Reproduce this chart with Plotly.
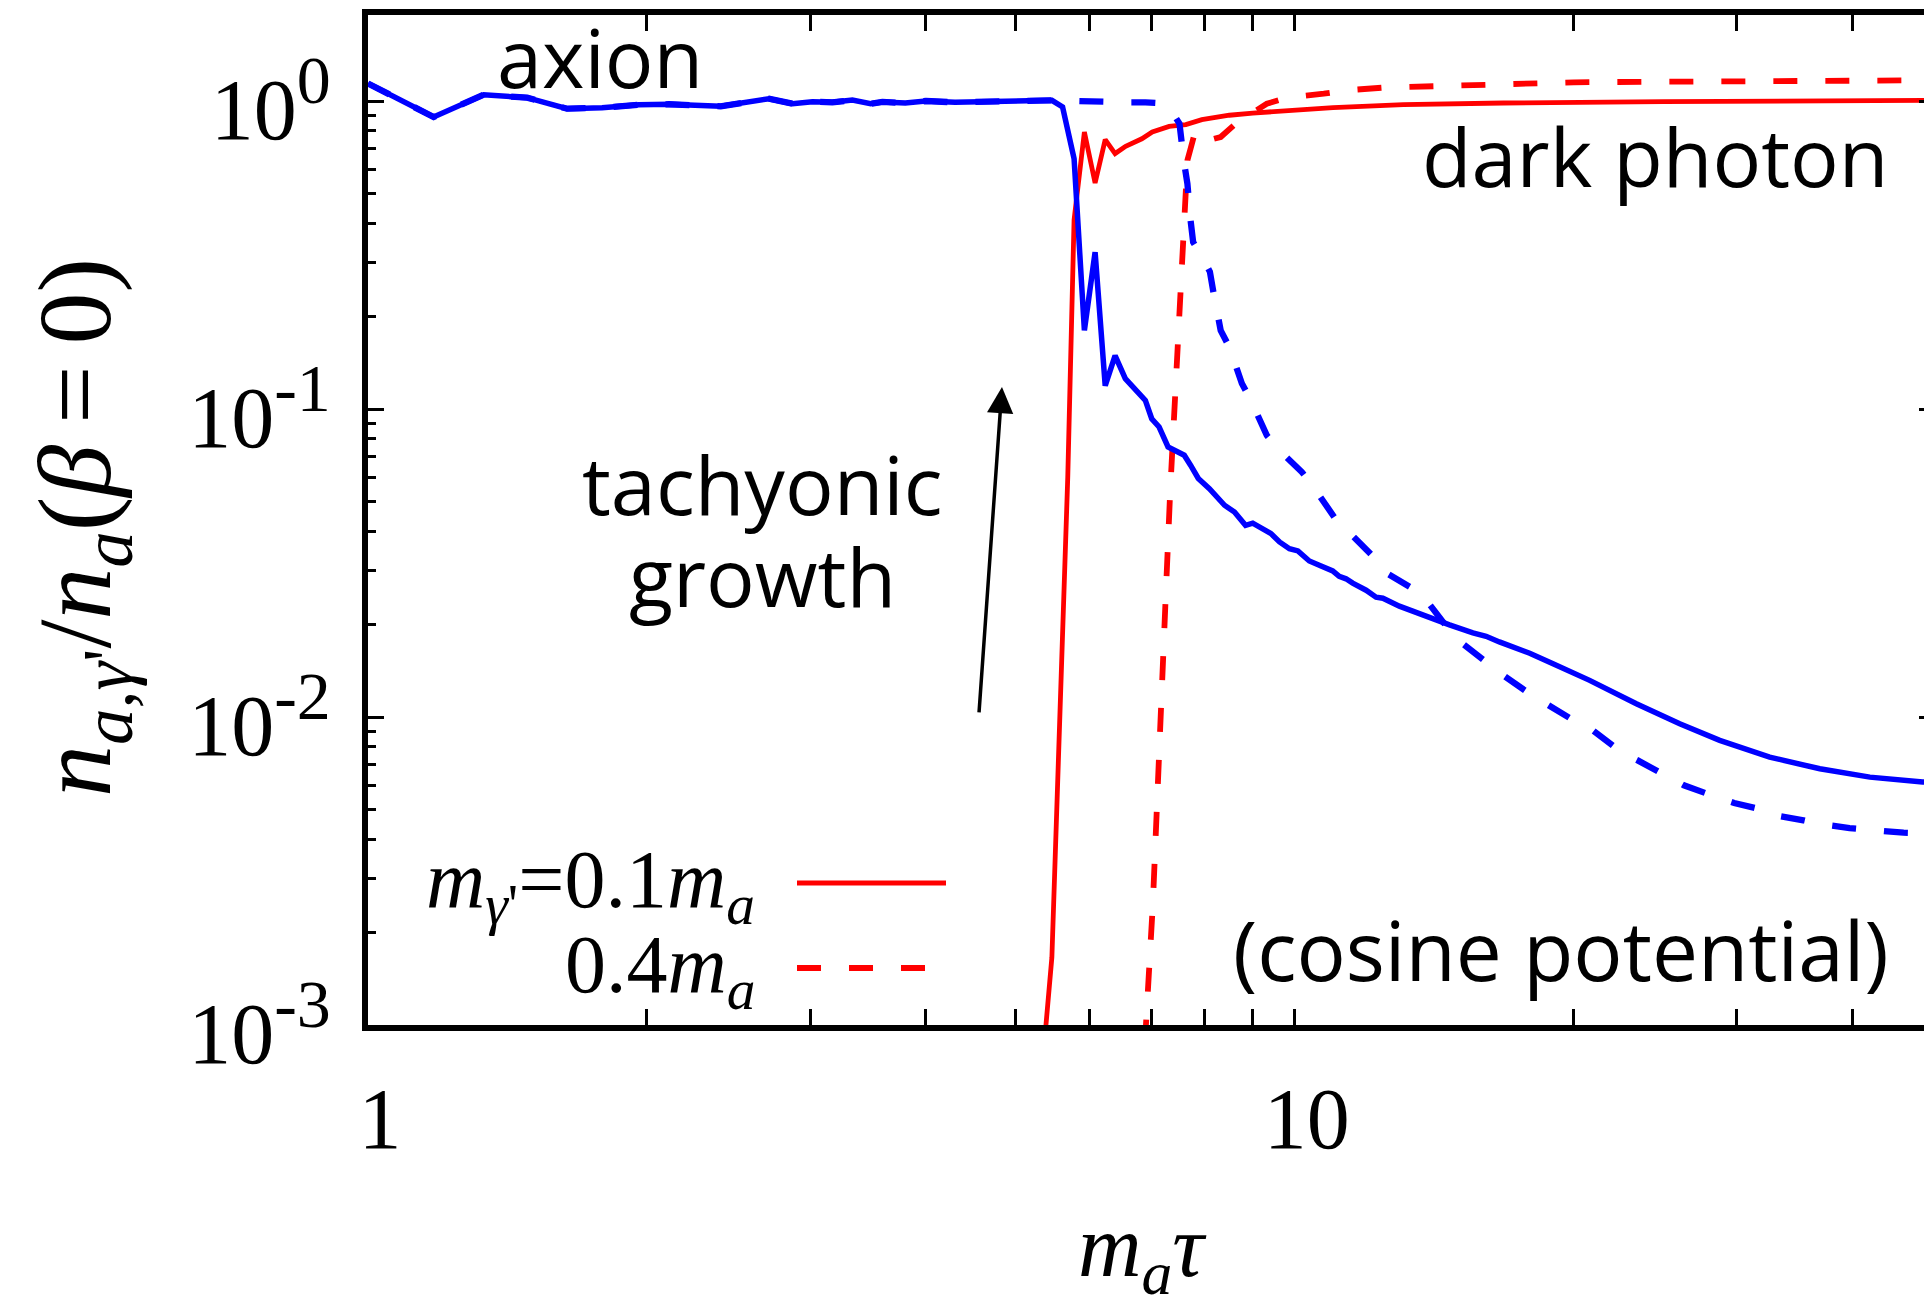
import math
import plotly.graph_objects as go

# ---------------------------------------------------------------------------
# Data: particle number ratio n / n_a(beta=0) versus m_a * tau
# ---------------------------------------------------------------------------

# axion, m_gamma' = 0.1 m_a (blue solid)
axion_01_x = [1.0, 1.177, 1.333, 1.485, 1.64, 1.789, 1.96, 2.112, 2.402, 2.708,
              2.871, 3.017, 3.17, 3.332, 3.487, 3.59, 3.8, 4.0, 4.3, 4.6, 4.9,
              5.2, 5.47, 5.617, 5.78, 5.93, 6.09, 6.245, 6.40, 6.565, 6.74,
              6.90, 7.01, 7.14, 7.30, 7.43, 7.60, 7.72, 7.87, 8.09, 8.40, 8.61,
              8.85, 9.01, 9.23, 9.43, 9.63, 9.87, 10.08, 10.37, 10.63, 10.99,
              11.17, 11.36, 11.55, 11.94, 12.24, 12.45, 12.97, 13.86, 14.69,
              15.57, 16.09, 16.63, 17.34, 17.93, 19.0, 20.81, 23.37, 26.03,
              28.75, 32.55, 36.87, 41.75, 47.6, 50.0]
axion_01_y = [1.14, 0.887, 1.048, 1.025, 0.944, 0.951, 0.973, 0.976, 0.961, 1.017,
              0.98, 0.995, 0.99, 1.007, 0.98, 0.993, 0.985, 1.0, 0.99, 0.995, 0.99,
              0.995, 1.005, 0.956, 0.65, 0.18, 0.323, 0.119, 0.149, 0.1255, 0.115,
              0.1067, 0.093, 0.0874, 0.0753, 0.0734, 0.0708, 0.0657, 0.0595, 0.0551,
              0.0487, 0.0463, 0.0419, 0.0426, 0.0409, 0.0394, 0.037, 0.0352, 0.0346,
              0.0321, 0.0311, 0.0298, 0.0286, 0.0281, 0.0272, 0.0258, 0.0245, 0.0243,
              0.0229, 0.0212, 0.0199, 0.01875, 0.01828, 0.01753, 0.0168, 0.0161,
              0.0149, 0.01315, 0.01104, 0.00951, 0.0084, 0.00741, 0.00679, 0.00638,
              0.00615, 0.0061]

# axion, m_gamma' = 0.4 m_a (blue dashed)
axion_04_x = [1.0, 1.177, 1.333, 1.485, 1.64, 1.789, 1.96, 2.112, 2.402, 2.708,
              2.871, 3.017, 3.17, 3.332, 3.487, 3.59, 3.8, 4.0, 4.3, 4.6, 4.9,
              5.2, 5.47, 5.8, 6.2, 6.6, 6.9, 7.1, 7.32, 7.51, 7.60, 7.66, 7.72,
              7.77, 7.95, 8.10, 8.17, 8.32, 8.50, 8.77, 8.97, 9.33, 9.63, 10.18,
              10.45, 11.03, 11.41, 12.12, 12.45, 13.35, 13.86, 14.69, 15.18, 16.23,
              16.69, 17.93, 18.68, 20.12, 20.97, 22.5, 23.45, 25.37, 26.3, 28.5,
              29.8, 31.6, 32.6, 35.4, 36.87, 39.7, 41.75, 45.4, 47.9, 50.0]
axion_04_y = [1.14, 0.887, 1.048, 1.025, 0.944, 0.951, 0.973, 0.976, 0.961, 1.017,
              0.98, 0.995, 0.99, 1.007, 0.98, 0.993, 0.985, 1.0, 0.99, 0.995, 0.99,
              0.995, 1.005, 1.0, 0.99, 0.99, 0.99, 0.985, 0.956, 0.844, 0.626, 0.539,
              0.41, 0.348, 0.31, 0.279, 0.24, 0.18, 0.159, 0.121, 0.1067, 0.0821,
              0.0734, 0.0624, 0.0565, 0.0446, 0.0402, 0.0335, 0.0298, 0.0263, 0.024,
              0.0191, 0.0173, 0.01472, 0.01383, 0.0119, 0.01104, 0.00964, 0.00906,
              0.0077, 0.00723, 0.00638, 0.006, 0.0055, 0.00526, 0.00504, 0.00483,
              0.00462, 0.00449, 0.00436, 0.00429, 0.00421, 0.00419, 0.00418]

# dark photon, m_gamma' = 0.1 m_a (red solid)
photon_01_x = [5.30, 5.39, 5.47, 5.59, 5.69, 5.78, 5.93, 6.09, 6.245, 6.40, 6.57,
               6.84, 7.02, 7.32, 7.63, 7.94, 8.50, 9.01, 9.38, 9.63, 10.2, 11.0,
               13.1, 16.8, 25.0, 35.0, 50.0]
photon_01_y = [0.0003, 0.001, 0.00166, 0.0116, 0.0601, 0.411, 0.793, 0.542, 0.749,
               0.675, 0.713, 0.754, 0.793, 0.827, 0.838, 0.87, 0.899, 0.914, 0.921,
               0.933, 0.944, 0.951, 0.973, 0.985, 0.995, 1.0, 1.005]

# dark photon, m_gamma' = 0.4 m_a (red dashed)
photon_04_x = [6.85, 6.91, 7.03, 7.15, 7.25, 7.34, 7.44, 7.57, 7.66, 7.72, 7.78,
               7.82, 8.0, 8.32, 8.65, 9.33, 9.81, 10.75, 11.36, 12.45, 13.13, 14.4,
               15.2, 16.6, 20.0, 25.0, 35.0, 50.0]
photon_04_y = [0.0004, 0.001, 0.00248, 0.00951, 0.0228, 0.0545, 0.121, 0.289, 0.642,
               0.70, 0.764, 0.72, 0.74, 0.764, 0.848, 0.98, 1.025, 1.056, 1.083,
               1.105, 1.11, 1.125, 1.13, 1.144, 1.15, 1.155, 1.162, 1.168]

# axis ticks
x_major = [1, 10]
x_major_text = ["1", "10"]
x_minor = [2, 3, 4, 5, 6, 7, 8, 9, 20, 30, 40]
y_major = [1e-3, 1e-2, 1e-1, 1]
y_exponents = ["-3", "-2", "-1", "0"]
y_minor = [m * 10.0 ** k for k in (-3, -2, -1) for m in range(2, 10)]

# arrow for the tachyonic growth (tail, tip) in data units
arrow_tail = (4.563, 0.01023)
arrow_tip = (4.832, 0.1179)

# ---------------------------------------------------------------------------
# Layout geometry (pixels)
# ---------------------------------------------------------------------------
W, H = 1924, 1297
LEFT, RIGHT, TOP, BOTTOM = 368, 1924, 15, 1025
X_DECADE = 926.7
Y_DECADE = 308.0
x_range = [0.0, (RIGHT - LEFT) / X_DECADE]
y_range = [-3.0, -3.0 + (BOTTOM - TOP) / Y_DECADE]


def fx(px):
    return (px - LEFT) / (RIGHT - LEFT)


def fy(py):
    return (BOTTOM - py) / (BOTTOM - TOP)


BLUE = "#0000ff"
RED = "#ff0000"
SANS = "Open Sans"
SERIF = "Liberation Serif"
DASH = "24px,28px"
TICK_SIZE = 86

# power-of-ten labels with a fairly large exponent
y_major_text = ["10<sup><span style='font-size:%dpx'>%s</span></sup>" % (int(TICK_SIZE * 0.8), e)
                for e in y_exponents]

fig = go.Figure()

fig.add_trace(go.Scatter(x=photon_01_x, y=photon_01_y, mode="lines",
                         line=dict(color=RED, width=4.8), showlegend=False))
fig.add_trace(go.Scatter(x=photon_04_x, y=photon_04_y, mode="lines",
                         line=dict(color=RED, width=5.8, dash=DASH), showlegend=False))
fig.add_trace(go.Scatter(x=axion_01_x, y=axion_01_y, mode="lines",
                         line=dict(color=BLUE, width=5.5), showlegend=False))
fig.add_trace(go.Scatter(x=axion_04_x, y=axion_04_y, mode="lines",
                         line=dict(color=BLUE, width=6.3, dash=DASH), showlegend=False))
# carrier for the right-hand tick marks
fig.add_trace(go.Scatter(x=[], y=[], yaxis="y2", showlegend=False))

annotations = []


# text labels inside the frame
def label(text, cx, baseline, size=81):
    annotations.append(dict(
        text=text, xref="paper", yref="paper",
        x=fx(cx), y=fy(baseline - 0.388 * size),
        xanchor="center", yanchor="middle", showarrow=False,
        font=dict(family=SANS, size=size, color="black")))


label("axion", 600, 88)
label("dark photon", 1655, 187)
label("tachyonic", 762, 515)
label("growth", 762, 607)
label("(cosine potential)", 1561, 981, size=82)

# arrow
annotations.append(dict(
    x=math.log10(arrow_tip[0]), y=math.log10(arrow_tip[1]),
    ax=math.log10(arrow_tail[0]), ay=math.log10(arrow_tail[1]),
    xref="x", yref="y", axref="x", ayref="y",
    text="", showarrow=True, arrowhead=2, arrowsize=1.5,
    arrowwidth=3.5, arrowcolor="black", standoff=0))

# key: text to the left of the line sample
LEG_SIZE = 82
annotations.append(dict(
    text="<i>m</i><sub><i>γ</i>'</sub>=0.1<i>m</i><sub><i>a</i></sub>",
    xref="paper", yref="paper", x=fx(757), y=fy(885),
    xanchor="right", yanchor="middle", showarrow=False,
    font=dict(family=SERIF, size=LEG_SIZE, color="black")))
annotations.append(dict(
    text="0.4<i>m</i><sub><i>a</i></sub>",
    xref="paper", yref="paper", x=fx(757), y=fy(970),
    xanchor="right", yanchor="middle", showarrow=False,
    font=dict(family=SERIF, size=LEG_SIZE, color="black")))

shapes = [
    dict(type="line", xref="paper", yref="paper",
         x0=fx(797), x1=fx(946), y0=fy(883), y1=fy(883),
         line=dict(color=RED, width=5)),
    dict(type="line", xref="paper", yref="paper",
         x0=fx(797), x1=fx(937), y0=fy(968), y1=fy(968),
         line=dict(color=RED, width=6, dash=DASH)),
]

# axis titles
annotations.append(dict(
    text="<i>n</i><sub><i>a</i>,<i>γ</i>'</sub>/<i>n</i><sub><i>a</i></sub>(<i>β</i>\u2009=\u20090)",
    xref="paper", yref="paper", x=fx(82), y=fy(528),
    xanchor="center", yanchor="middle", textangle=-90, showarrow=False,
    font=dict(family=SERIF, size=104, color="black")))
annotations.append(dict(
    text="<i>m</i><sub><i>a</i></sub><i>τ</i>",
    xref="paper", yref="paper", x=fx(1142), y=fy(1252),
    xanchor="center", yanchor="middle", showarrow=False,
    font=dict(family=SERIF, size=88, color="black")))

tick_common = dict(ticks="inside", tickcolor="black", tickwidth=2.5,
                   showgrid=False, zeroline=False)

fig.update_layout(
    width=W, height=H,
    margin=dict(l=LEFT, r=W - RIGHT, t=TOP, b=H - BOTTOM, pad=0),
    paper_bgcolor="white", plot_bgcolor="white",
    font=dict(family=SERIF, color="black"),
    showlegend=False,
    xaxis=dict(type="log", range=x_range, tickmode="array",
               tickvals=x_major, ticktext=x_major_text, ticklen=16,
               showline=True, linecolor="black", linewidth=6, mirror="allticks",
               minor=dict(tickmode="array", tickvals=x_minor, ticks="inside",
                          ticklen=8, tickwidth=2.5, tickcolor="black"),
               tickfont=dict(family=SERIF, size=TICK_SIZE, color="black"),
               ticklabelstandoff=14, ticklabelshift=12,
               **tick_common),
    yaxis=dict(type="log", range=y_range, tickmode="array",
               tickvals=y_major, ticktext=y_major_text, ticklen=16,
               showline=True, linecolor="black", linewidth=6, mirror=False,
               minor=dict(tickmode="array", tickvals=y_minor, ticks="inside",
                          ticklen=8, tickwidth=2.5, tickcolor="black"),
               tickfont=dict(family=SERIF, size=TICK_SIZE, color="black"),
               ticklabelstandoff=14, ticklabelshift=8,
               **tick_common),
    yaxis2=dict(type="log", range=y_range, overlaying="y", side="right",
                tickmode="array", tickvals=y_major, ticklen=5,
                showticklabels=False, showline=False, **tick_common),
    annotations=annotations,
    shapes=shapes,
)

fig.write_html("out.html")
